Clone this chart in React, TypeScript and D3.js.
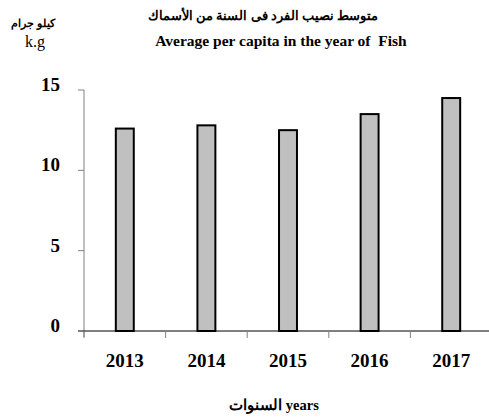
import React, { useRef, useEffect } from "react";
import * as d3 from "d3";

const years = ["2013", "2014", "2015", "2016", "2017"];
const perCapita = [12.6, 12.8, 12.5, 13.5, 14.5];
const yTicks = [0, 5, 10, 15];

const W = 489;
const H = 419;
const serif = "'Liberation Serif', 'Times New Roman', serif";

const App = () => {
  const ref = useRef<SVGSVGElement>(null);

  useEffect(() => {
    const svg = d3.select(ref.current);
    svg.selectAll("*").remove();

    const x = d3.scaleBand().domain(years).range([84, 492]).padding(0);
    const y = d3.scaleLinear().domain([0, 15]).range([331, 90]);
    const barW = x.step() * 0.22;

    // titles
    svg.append("text")
      .attr("x", 263).attr("y", 20)
      .attr("text-anchor", "middle")
      .style("font-family", serif).style("font-weight", "bold").style("font-size", "13px")
      .attr("direction", "rtl")
      .text("متوسط نصيب الفرد فى السنة من الأسماك");

    svg.append("text")
      .attr("x", 281).attr("y", 46)
      .attr("text-anchor", "middle")
      .style("font-family", serif).style("font-weight", "bold").style("font-size", "15.5px")
      .style("white-space", "pre")
      .text("Average per capita in the year of  Fish");

    svg.append("text")
      .attr("x", 33).attr("y", 27)
      .attr("text-anchor", "middle")
      .style("font-family", serif).style("font-weight", "bold").style("font-size", "10.5px")
      .text("كيلو جرام");

    svg.append("text")
      .attr("x", 35).attr("y", 47)
      .attr("text-anchor", "middle")
      .style("font-family", serif).style("font-size", "16px")
      .text("k.g");

    // bars
    svg.selectAll("rect.bar")
      .data(perCapita)
      .enter().append("rect")
      .attr("class", "bar")
      .attr("x", (d, i) => (x(years[i]) as number) + x.step() / 2 - barW / 2)
      .attr("y", d => y(d))
      .attr("width", barW)
      .attr("height", d => y(0) - y(d))
      .attr("fill", "#c0c0c0")
      .attr("stroke", "black")
      .attr("stroke-width", 2);

    // y axis
    svg.append("line")
      .attr("x1", 84).attr("x2", 84)
      .attr("y1", y(15)).attr("y2", y(0) + 6)
      .style("stroke", "#808080").style("stroke-width", 1);

    svg.selectAll("line.ytick")
      .data(yTicks)
      .enter().append("line")
      .attr("class", "ytick")
      .attr("x1", 78).attr("x2", 84)
      .attr("y1", d => y(d)).attr("y2", d => y(d))
      .style("stroke", d => (d === 0 ? "black" : "#808080"));

    svg.selectAll("text.ylab")
      .data(yTicks)
      .enter().append("text")
      .attr("class", "ylab")
      .attr("x", 60)
      .attr("y", d => y(d) + 1)
      .attr("text-anchor", "end")
      .style("font-family", serif).style("font-weight", "bold").style("font-size", "19px")
      .text(d => d);

    // x axis
    svg.append("line")
      .attr("x1", 84).attr("x2", W)
      .attr("y1", y(0)).attr("y2", y(0))
      .style("stroke", "black").style("stroke-width", 1);

    svg.selectAll("line.xtick")
      .data(years)
      .enter().append("line")
      .attr("class", "xtick")
      .attr("x1", d => x(d) as number).attr("x2", d => x(d) as number)
      .attr("y1", y(0)).attr("y2", y(0) + 7)
      .style("stroke", "#808080");

    svg.selectAll("text.xlab")
      .data(years)
      .enter().append("text")
      .attr("class", "xlab")
      .attr("x", d => (x(d) as number) + x.step() / 2)
      .attr("y", 367)
      .attr("text-anchor", "middle")
      .style("font-family", serif).style("font-weight", "bold").style("font-size", "19px")
      .text(d => d);

    svg.append("text")
      .attr("x", 274).attr("y", 410)
      .attr("text-anchor", "middle")
      .style("font-family", serif).style("font-weight", "bold").style("font-size", "14.5px")
      .text("السنوات years");
  }, []);

  return (
    <svg
      ref={ref}
      width={W}
      height={H}
      style={{ position: "absolute", left: 0, top: 0, background: "white" }}
    />
  );
};

export default App;
